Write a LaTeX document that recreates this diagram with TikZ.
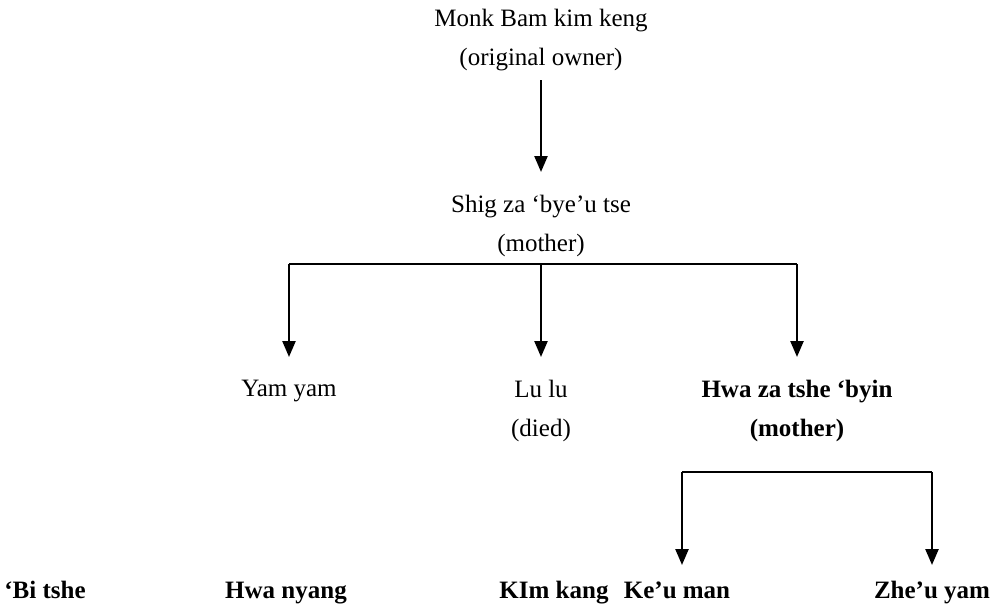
\documentclass[tikz,border=0pt]{standalone}
\usepackage{fontspec}
\setmainfont{Liberation Serif}
\usetikzlibrary{arrows.meta}
\begin{document}
\begin{tikzpicture}[x=1pt,y=-1pt,
  lbl/.style={font=\fontsize{25}{39}\selectfont, align=center, inner sep=0pt, anchor=base},
  blbl/.style={lbl, font=\fontsize{25}{39}\selectfont\bfseries},
  conn/.style={line width=1.8pt},
  arr/.style={line width=2.4pt, -{Triangle[length=16pt,width=13pt]}}]
\useasboundingbox (0,0) rectangle (999,606);
\node[lbl] (monk) at (541,65) {Monk Bam kim keng\\(original owner)};
\node[lbl] (shig) at (541,251) {Shig za ‘bye’u tse\\(mother)};
\node[lbl] (yam) at (289,396) {Yam yam};
\node[lbl] (lulu) at (541,436) {Lu lu\\(died)};
\node[blbl] (hwa) at (797,436) {Hwa za tshe ‘byin\\(mother)};
\node[blbl] (bi) at (45,598) {‘Bi tshe};
\node[blbl] (nyang) at (286,598) {Hwa nyang};
\node[blbl] (kim) at (554,598) {KIm kang};
\node[blbl] (keu) at (677,598) {Ke’u man};
\node[blbl] (zhe) at (932,598) {Zhe’u yam};
\coordinate (bar1) at (541,264);
\coordinate (bar2) at (682,472);
\draw[arr] (monk.south |- 0,80) -- (shig.north |- 0,172);
\draw[conn] (yam.north |- bar1) -- (hwa.north |- bar1);
\draw[arr] (yam.north |- bar1) -- (yam.north |- 0,357);
\draw[arr] (lulu.north |- bar1) -- (lulu.north |- 0,357);
\draw[arr] (hwa.north |- bar1) -- (hwa.north |- 0,357);
\draw[conn] (bar2) -- (zhe.north |- bar2);
\draw[arr] (bar2) -- (bar2 |- 0,565);
\draw[arr] (zhe.north |- bar2) -- (zhe.north |- 0,565);
\end{tikzpicture}
\end{document}
